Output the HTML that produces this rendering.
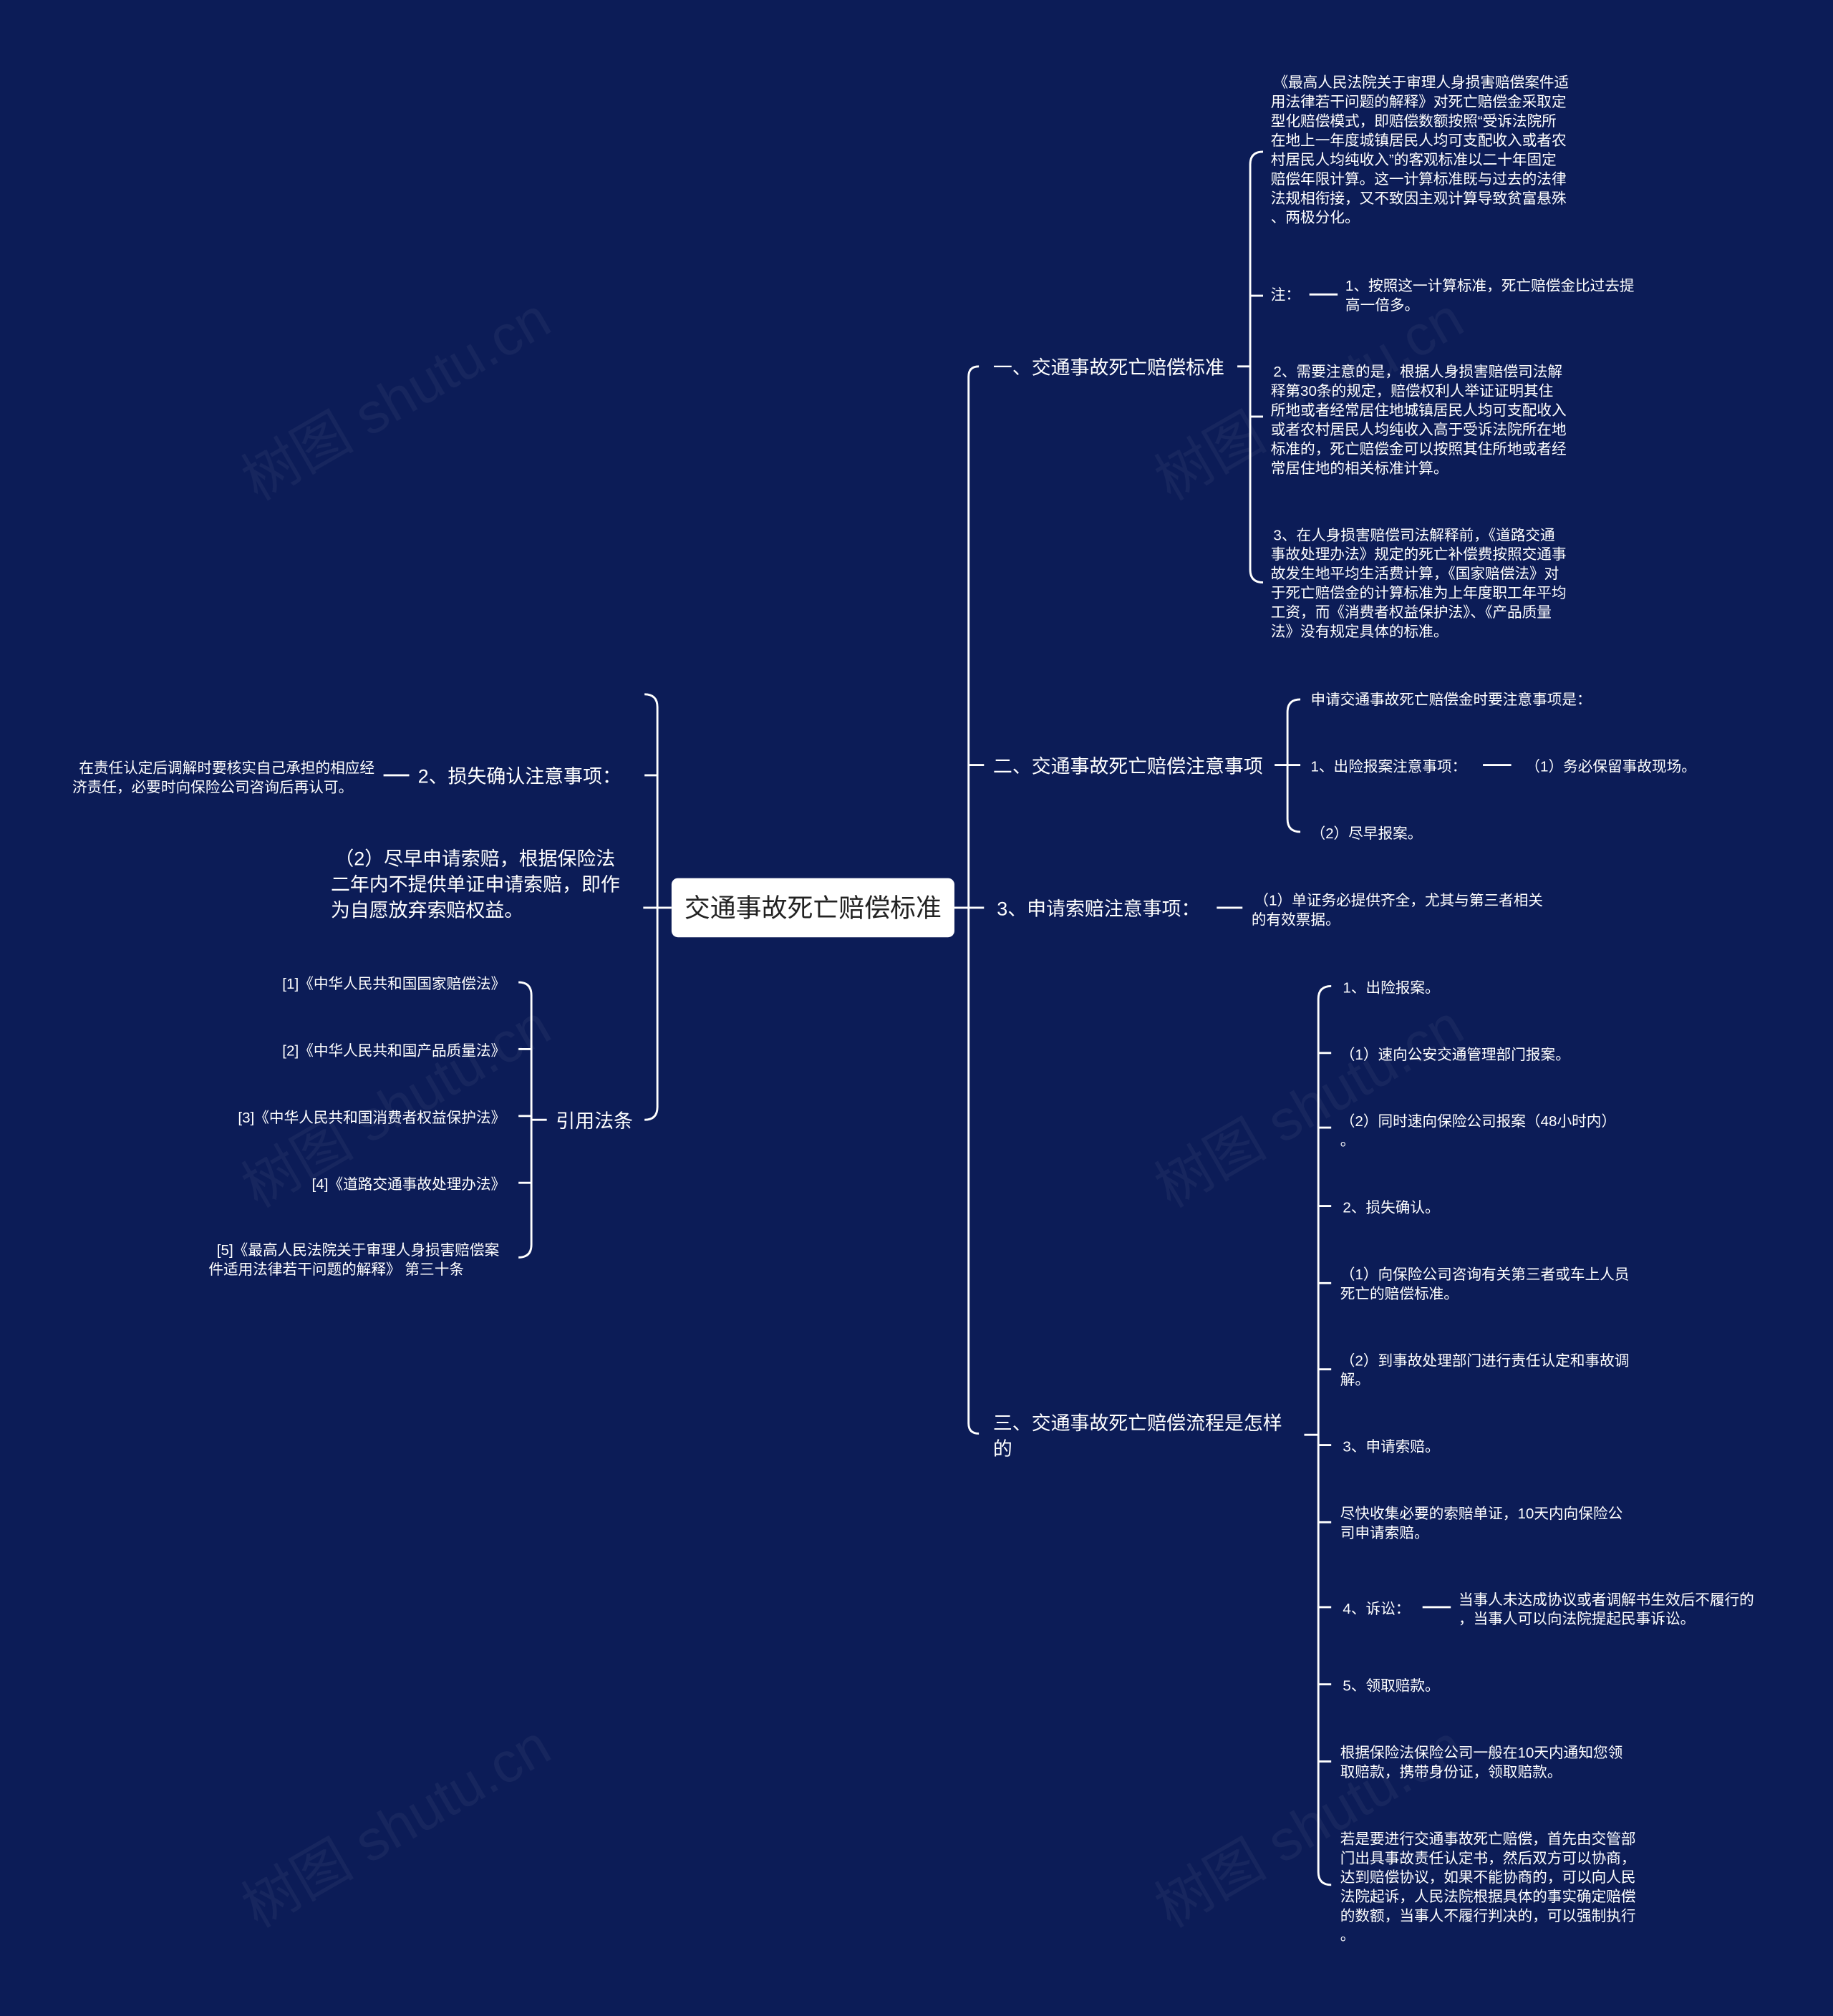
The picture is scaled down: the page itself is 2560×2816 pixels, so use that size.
<!DOCTYPE html>
<html><head><meta charset="utf-8"><style>
html,body{margin:0;padding:0;background:#0c1c57;}
svg{display:block}
text{font-family:"Liberation Sans","Noto Sans CJK SC",sans-serif;fill:#fff;}
.s{font-size:11.5px}
.m{font-size:15px}
.l{font-size:16px}
path,line{stroke:#fff;stroke-width:1.6;fill:none}
</style></head><body>
<svg width="2560" height="2816" viewBox="0 0 1425 1568" xmlns="http://www.w3.org/2000/svg">
<rect width="1425" height="1568" fill="#0c1c57"/>
<g opacity="0.05" font-size="44" style="font-family:'Liberation Serif','Noto Serif CJK SC',serif">
<text x="200" y="390" transform="rotate(-30 200 390)">树图 shutu.cn</text>
<text x="910" y="390" transform="rotate(-30 910 390)">树图 shutu.cn</text>
<text x="200" y="940" transform="rotate(-30 200 940)">树图 shutu.cn</text>
<text x="910" y="940" transform="rotate(-30 910 940)">树图 shutu.cn</text>
<text x="200" y="1500" transform="rotate(-30 200 1500)">树图 shutu.cn</text>
<text x="910" y="1500" transform="rotate(-30 910 1500)">树图 shutu.cn</text>
</g>

<!-- root -->
<rect x="522" y="683" width="220" height="46" rx="5" fill="#fff"/>
<text x="632" y="713" text-anchor="middle" style="fill:#222;font-size:20px">交通事故死亡赔偿标准</text>

<!-- right trunk -->
<line x1="742" y1="706" x2="765" y2="706"/>
<path d="M761,285 Q753,285 753,293 L753,1107 Q753,1115 761,1115"/>
<line x1="753" y1="595" x2="765" y2="595"/>

<text class="m" x="772" y="291">一、交通事故死亡赔偿标准</text>
<text class="m" x="772" y="601">二、交通事故死亡赔偿注意事项</text>
<text class="m" x="775" y="712">3、申请索赔注意事项：</text>
<text class="m" x="772" y="1112">三、交通事故死亡赔偿流程是怎样</text>
<text class="m" x="772" y="1132">的</text>

<!-- branch 1 -->
<line x1="962" y1="285" x2="972" y2="285"/>
<path d="M982,118 Q972,118 972,128 L972,443 Q972,453 982,453"/>
<line x1="972" y1="230" x2="982" y2="230"/>
<line x1="972" y1="324" x2="982" y2="324"/>
<g class="s">
<text x="990" y="68">《最高人民法院关于审理人身损害赔偿案件适</text>
<text x="988" y="83">用法律若干问题的解释》对死亡赔偿金采取定</text>
<text x="988" y="98">型化赔偿模式，即赔偿数额按照“受诉法院所</text>
<text x="988" y="113">在地上一年度城镇居民人均可支配收入或者农</text>
<text x="988" y="128">村居民人均纯收入”的客观标准以二十年固定</text>
<text x="988" y="143">赔偿年限计算。这一计算标准既与过去的法律</text>
<text x="988" y="158">法规相衔接，又不致因主观计算导致贫富悬殊</text>
<text x="988" y="173">、两极分化。</text>
<text x="988" y="233">注：</text>
<text x="1046" y="226">1、按照这一计算标准，死亡赔偿金比过去提</text>
<text x="1046" y="241">高一倍多。</text>
<text x="990" y="293">2、需要注意的是，根据人身损害赔偿司法解</text>
<text x="988" y="308">释第30条的规定，赔偿权利人举证证明其住</text>
<text x="988" y="323">所地或者经常居住地城镇居民人均可支配收入</text>
<text x="988" y="338">或者农村居民人均纯收入高于受诉法院所在地</text>
<text x="988" y="353">标准的，死亡赔偿金可以按照其住所地或者经</text>
<text x="988" y="368">常居住地的相关标准计算。</text>
<text x="990" y="420">3、在人身损害赔偿司法解释前，《道路交通</text>
<text x="988" y="435">事故处理办法》规定的死亡补偿费按照交通事</text>
<text x="988" y="450">故发生地平均生活费计算，《国家赔偿法》对</text>
<text x="988" y="465">于死亡赔偿金的计算标准为上年度职工年平均</text>
<text x="988" y="480">工资，而《消费者权益保护法》、《产品质量</text>
<text x="988" y="495">法》没有规定具体的标准。</text>
</g>
<line x1="1018" y1="229" x2="1040" y2="229"/>

<!-- branch 2 -->
<line x1="991" y1="595" x2="1011" y2="595"/>
<path d="M1011,544 Q1001,544 1001,554 L1001,637 Q1001,647 1011,647"/>
<g class="s">
<text x="1019" y="548">申请交通事故死亡赔偿金时要注意事项是：</text>
<text x="1019" y="600">1、出险报案注意事项：</text>
<text x="1186" y="600">（1）务必保留事故现场。</text>
<text x="1019" y="652">（2）尽早报案。</text>
</g>
<line x1="1153" y1="595" x2="1175" y2="595"/>

<!-- branch 3 -->
<line x1="946" y1="706" x2="966" y2="706"/>
<g class="s">
<text x="975" y="704">（1）单证务必提供齐全，尤其与第三者相关</text>
<text x="973" y="719">的有效票据。</text>
</g>

<!-- branch 4 -->
<line x1="1014" y1="1116" x2="1025" y2="1116"/>
<path d="M1035,767 Q1025,767 1025,777 L1025,1456 Q1025,1466 1035,1466"/>
<line x1="1025" y1="819" x2="1035" y2="819"/>
<line x1="1025" y1="877" x2="1035" y2="877"/>
<line x1="1025" y1="938" x2="1035" y2="938"/>
<line x1="1025" y1="998" x2="1035" y2="998"/>
<line x1="1025" y1="1065" x2="1035" y2="1065"/>
<line x1="1025" y1="1124" x2="1035" y2="1124"/>
<line x1="1025" y1="1184" x2="1035" y2="1184"/>
<line x1="1025" y1="1250" x2="1035" y2="1250"/>
<line x1="1025" y1="1310" x2="1035" y2="1310"/>
<line x1="1025" y1="1370" x2="1035" y2="1370"/>
<g class="s">
<text x="1044" y="772">1、出险报案。</text>
<text x="1042" y="824">（1）速向公安交通管理部门报案。</text>
<text x="1042" y="876">（2）同时速向保险公司报案（48小时内）</text>
<text x="1042" y="891">。</text>
<text x="1044" y="943">2、损失确认。</text>
<text x="1042" y="995">（1）向保险公司咨询有关第三者或车上人员</text>
<text x="1042" y="1010">死亡的赔偿标准。</text>
<text x="1042" y="1062">（2）到事故处理部门进行责任认定和事故调</text>
<text x="1042" y="1077">解。</text>
<text x="1044" y="1129">3、申请索赔。</text>
<text x="1042" y="1181">尽快收集必要的索赔单证，10天内向保险公</text>
<text x="1042" y="1196">司申请索赔。</text>
<text x="1044" y="1255">4、诉讼：</text>
<text x="1134" y="1248">当事人未达成协议或者调解书生效后不履行的</text>
<text x="1134" y="1263">，当事人可以向法院提起民事诉讼。</text>
<text x="1044" y="1315">5、领取赔款。</text>
<text x="1042" y="1367">根据保险法保险公司一般在10天内通知您领</text>
<text x="1042" y="1382">取赔款，携带身份证，领取赔款。</text>
<text x="1042" y="1434">若是要进行交通事故死亡赔偿，首先由交管部</text>
<text x="1042" y="1449">门出具事故责任认定书，然后双方可以协商，</text>
<text x="1042" y="1464">达到赔偿协议，如果不能协商的，可以向人民</text>
<text x="1042" y="1479">法院起诉，人民法院根据具体的事实确定赔偿</text>
<text x="1042" y="1494">的数额，当事人不履行判决的，可以强制执行</text>
<text x="1042" y="1509">。</text>
</g>
<line x1="1106" y1="1250" x2="1128" y2="1250"/>

<!-- left trunk -->
<line x1="500" y1="706" x2="522" y2="706"/>
<path d="M501,540 Q511,540 511,550 L511,861 Q511,871 501,871"/>
<line x1="501" y1="603" x2="511" y2="603"/>
<text class="m" x="483" y="609" text-anchor="end">2、损失确认注意事项：</text>
<line x1="298" y1="603" x2="318" y2="603"/>
<g class="s" text-anchor="end">
<text x="291" y="601">在责任认定后调解时要核实自己承担的相应经</text>
<text x="56" y="616" text-anchor="start">济责任，必要时向保险公司咨询后再认可。</text>
</g>
<g class="m">
<text x="260" y="673">（2）尽早申请索赔，根据保险法</text>
<text x="257" y="693">二年内不提供单证申请索赔，即作</text>
<text x="257" y="713">为自愿放弃索赔权益。</text>
</g>
<text class="m" x="492" y="877" text-anchor="end">引用法条</text>
<line x1="413" y1="871" x2="425" y2="871"/>
<path d="M403,764 Q413,764 413,774 L413,968 Q413,978 403,978"/>
<line x1="403" y1="816" x2="413" y2="816"/>
<line x1="403" y1="868" x2="413" y2="868"/>
<line x1="403" y1="920" x2="413" y2="920"/>
<g class="s" text-anchor="end">
<text x="393" y="769">[1]《中华人民共和国国家赔偿法》</text>
<text x="393" y="821">[2]《中华人民共和国产品质量法》</text>
<text x="393" y="873">[3]《中华人民共和国消费者权益保护法》</text>
<text x="393" y="925">[4]《道路交通事故处理办法》</text>
<text x="388" y="976">[5]《最高人民法院关于审理人身损害赔偿案</text>
<text x="162" y="991" text-anchor="start">件适用法律若干问题的解释》 第三十条</text>
</g>
</svg>
</body></html>
